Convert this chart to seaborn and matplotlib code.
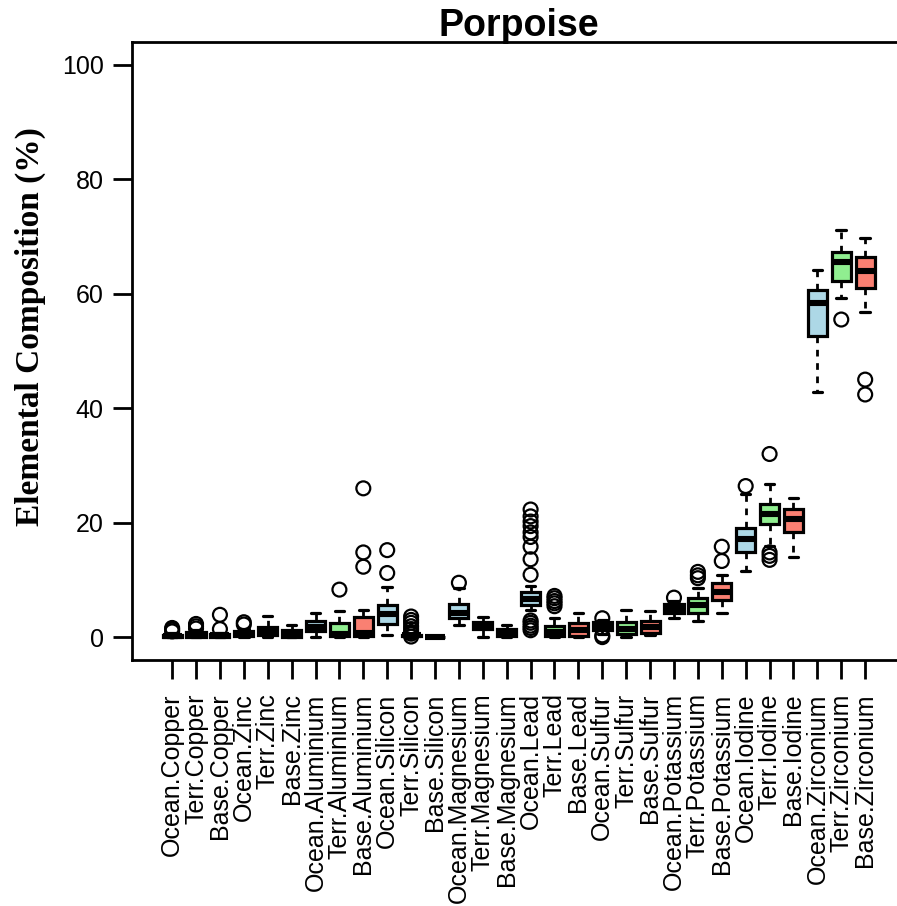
import numpy as np
import pandas as pd
import matplotlib
matplotlib.use("Agg")
import matplotlib.pyplot as plt
import seaborn as sns

# Sample categories: site (Ocean / Terr / Base) x element
categories = [
    "Ocean.Copper", "Terr.Copper", "Base.Copper",
    "Ocean.Zinc", "Terr.Zinc", "Base.Zinc",
    "Ocean.Aluminium", "Terr.Aluminium", "Base.Aluminium",
    "Ocean.Silicon", "Terr.Silicon", "Base.Silicon",
    "Ocean.Magnesium", "Terr.Magnesium", "Base.Magnesium",
    "Ocean.Lead", "Terr.Lead", "Base.Lead",
    "Ocean.Sulfur", "Terr.Sulfur", "Base.Sulfur",
    "Ocean.Potassium", "Terr.Potassium", "Base.Potassium",
    "Ocean.Iodine", "Terr.Iodine", "Base.Iodine",
    "Ocean.Zirconium", "Terr.Zirconium", "Base.Zirconium",
]

# Five-number summaries (%), one entry per category
whisker_low = [0.0, 0.0, 0.0, 0.0, 0.0, 0.0, 0.1, 0.0, 0.0, 0.4,
               0.0, 0.0, 2.2, 0.1, 0.0, 4.7, 0.0, 0.0, 0.6, 0.1,
               0.4, 3.4, 2.9, 4.2, 11.5, 16.0, 14.0, 42.8, 59.3, 56.8]
lower_quartile = [0.05, 0.1, 0.1, 0.2, 0.3, 0.1, 1.0, 0.2, 0.15, 2.3,
                  0.2, 0.0, 3.4, 1.4, 0.2, 5.6, 0.2, 0.2, 1.2, 0.5,
                  0.8, 4.3, 4.3, 6.4, 14.8, 19.7, 18.3, 52.6, 62.2, 61.0]
median = [0.2, 0.3, 0.3, 0.5, 0.9, 0.4, 1.8, 0.6, 0.7, 4.0,
          0.3, 0.05, 4.3, 1.9, 0.8, 6.6, 0.9, 1.2, 1.9, 1.5,
          1.7, 5.0, 5.6, 7.9, 17.2, 21.5, 20.7, 58.4, 65.6, 64.0]
upper_quartile = [0.4, 0.9, 0.6, 1.0, 1.8, 1.2, 2.8, 2.4, 3.6, 5.6,
                  0.4, 0.1, 5.7, 2.6, 1.5, 7.9, 1.9, 2.4, 2.6, 2.6,
                  2.9, 5.7, 6.8, 9.5, 19.1, 23.2, 22.4, 60.7, 67.3, 66.5]
whisker_high = [0.8, 1.2, 0.8, 1.5, 3.7, 2.2, 4.3, 4.5, 4.8, 8.8,
                0.5, 0.15, 8.5, 3.5, 2.2, 8.9, 3.4, 4.3, 3.0, 4.8,
                4.6, 6.3, 8.6, 10.8, 25.0, 26.7, 24.3, 64.2, 71.2, 69.8]

# Individual outlying observations (%)
outlier_category = (
    ["Ocean.Copper"] * 3 + ["Terr.Copper"] * 3 + ["Base.Copper"] * 2
    + ["Ocean.Zinc"] * 2 + ["Terr.Aluminium"] + ["Base.Aluminium"] * 3
    + ["Ocean.Silicon"] * 2 + ["Terr.Silicon"] * 8 + ["Ocean.Magnesium"]
    + ["Ocean.Lead"] * 14 + ["Terr.Lead"] * 5 + ["Ocean.Sulfur"] * 3
    + ["Ocean.Potassium"] + ["Terr.Potassium"] * 3 + ["Base.Potassium"] * 2
    + ["Ocean.Iodine"] + ["Terr.Iodine"] * 4 + ["Terr.Zirconium"]
    + ["Base.Zirconium"] * 2
)
outlier_value = (
    [1.0, 1.3, 1.6] + [1.5, 1.9, 2.3] + [1.4, 3.9]
    + [2.2, 2.6] + [8.3] + [12.3, 14.8, 26.0]
    + [11.2, 15.2] + [0.1, 0.6, 0.9, 1.4, 1.9, 2.5, 3.0, 3.6] + [9.5]
    + [1.2, 1.6, 2.0, 2.5, 2.9, 10.9, 13.6, 15.8, 17.5, 18.3, 19.4, 20.2, 21.1, 22.3]
    + [5.4, 5.9, 6.3, 6.8, 7.2] + [0.0, 0.3, 3.3]
    + [6.9] + [10.3, 10.8, 11.4] + [13.3, 15.8]
    + [26.4] + [13.5, 14.2, 14.8, 32.0] + [55.5]
    + [42.4, 45.0]
)

site_colors = {"Ocean": "#ADD8E6", "Terr": "#90EE90", "Base": "#FA8072"}

# Long-form table: each category holds its five summary values
rows = []
for i, cat in enumerate(categories):
    for v in (whisker_low[i], lower_quartile[i], median[i],
              upper_quartile[i], whisker_high[i]):
        rows.append({"label": cat, "site": cat.split(".")[0], "value": v})
box_df = pd.DataFrame(rows)
out_df = pd.DataFrame({"label": outlier_category, "value": outlier_value})

sns.set_style("white")
plt.rcParams["font.family"] = ["Liberation Sans", "DejaVu Sans"]
plt.rcParams["text.color"] = "black"
plt.rcParams["axes.labelcolor"] = "black"

fig = plt.figure(figsize=(8.97, 9.06), dpi=100)
ax = fig.add_axes([131.5 / 897, (906 - 660) / 906, 774.3 / 897, 618 / 906])

sns.boxplot(
    data=box_df, x="label", y="value", hue="site", order=categories,
    palette=site_colors, dodge=False, saturation=1, width=0.8,
    whis=(0, 100), showfliers=False, linecolor="black", linewidth=2.3,
    legend=False, ax=ax,
    medianprops={"linewidth": 4.4, "color": "black", "solid_capstyle": "butt"},
    whiskerprops={"linestyle": (0, (2.4, 2.4)), "linewidth": 2.0},
    capprops={"linewidth": 2.3},
)

sns.stripplot(
    data=out_df, x="label", y="value", order=categories, jitter=False,
    color="black", size=10, linewidth=1.6, edgecolor="black", ax=ax,
)
for coll in ax.collections:
    coll.set_facecolor("none")
    coll.set_edgecolor("black")
    coll.set_linewidth(1.6)
    coll.set_zorder(5)

ax.set_xlim(-1.7, 30.7)
ax.set_ylim(-4, 104)
ax.set_yticks([0, 20, 40, 60, 80, 100])
ax.set_xticks(range(len(categories)))
ax.set_xticklabels(categories, rotation=90, fontsize=18)
ax.tick_params(axis="y", left=True, labelsize=18, length=14, width=2,
               pad=6, colors="black")
ax.tick_params(axis="x", bottom=True, length=14, width=2, pad=10,
               colors="black")
ax.set_xlabel("")
ax.set_ylabel("Elemental Composition (%)", family=["Liberation Serif", "DejaVu Serif"],
              fontweight="bold", fontsize=24, color="black")
ax.yaxis.set_label_coords(-0.11, 0.54)
ax.set_title("Porpoise", fontsize=27, fontweight="bold", pad=4, color="black")

for spine in ax.spines.values():
    spine.set_visible(True)
    spine.set_linewidth(2)
    spine.set_color("black")

fig.savefig("out.png", dpi=100, facecolor="white")
